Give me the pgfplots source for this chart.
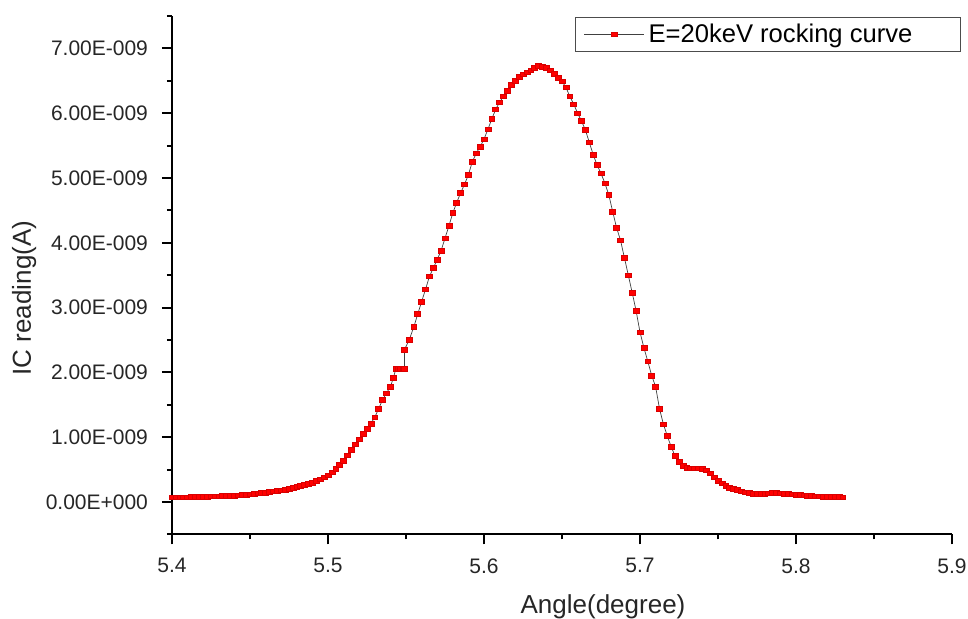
\documentclass[border=0pt]{standalone}
\usepackage{fontspec}
\setmainfont{Liberation Sans}
\usepackage{pgfplots}
\usepackage{pgfplotstable}
\pgfplotsset{compat=1.18}
\pgfplotstableread{
x y
5.4000 0.070
5.4025 0.071
5.4050 0.072
5.4075 0.074
5.4100 0.075
5.4125 0.076
5.4150 0.077
5.4175 0.079
5.4200 0.080
5.4225 0.082
5.4250 0.085
5.4275 0.087
5.4300 0.090
5.4325 0.092
5.4350 0.095
5.4375 0.097
5.4400 0.100
5.4425 0.105
5.4450 0.110
5.4475 0.115
5.4500 0.120
5.4525 0.126
5.4550 0.132
5.4575 0.138
5.4600 0.145
5.4625 0.153
5.4650 0.162
5.4675 0.171
5.4700 0.180
5.4725 0.192
5.4750 0.204
5.4775 0.217
5.4800 0.230
5.4825 0.247
5.4850 0.264
5.4875 0.282
5.4900 0.300
5.4925 0.326
5.4950 0.352
5.4975 0.382
5.5000 0.415
5.5025 0.460
5.5050 0.510
5.5075 0.570
5.5100 0.640
5.5125 0.720
5.5150 0.810
5.5175 0.890
5.5200 0.970
5.5225 1.050
5.5250 1.130
5.5275 1.210
5.5300 1.310
5.5325 1.440
5.5350 1.580
5.5375 1.680
5.5400 1.780
5.5420 1.920
5.5435 2.060
5.5450 2.060
5.5465 2.060
5.5480 2.060
5.5490 2.060
5.5490 2.350
5.5520 2.500
5.5550 2.700
5.5575 2.900
5.5600 3.090
5.5625 3.280
5.5650 3.480
5.5675 3.610
5.5700 3.740
5.5725 3.880
5.5750 4.070
5.5775 4.260
5.5800 4.460
5.5825 4.620
5.5850 4.770
5.5875 4.900
5.5900 5.050
5.5925 5.250
5.5950 5.380
5.5975 5.480
5.6000 5.600
5.6025 5.750
5.6050 5.910
5.6075 6.060
5.6100 6.170
5.6125 6.260
5.6150 6.350
5.6175 6.440
5.6200 6.500
5.6225 6.560
5.6250 6.600
5.6275 6.630
5.6300 6.660
5.6325 6.700
5.6350 6.730
5.6375 6.720
5.6400 6.700
5.6425 6.660
5.6450 6.610
5.6475 6.550
5.6500 6.490
5.6525 6.400
5.6550 6.260
5.6575 6.140
5.6600 6.000
5.6625 5.880
5.6650 5.740
5.6675 5.550
5.6700 5.360
5.6725 5.200
5.6750 5.070
5.6775 4.920
5.6800 4.740
5.6825 4.480
5.6850 4.230
5.6875 4.040
5.6900 3.770
5.6925 3.500
5.6950 3.230
5.6975 2.950
5.7000 2.620
5.7025 2.380
5.7050 2.170
5.7075 1.950
5.7100 1.780
5.7125 1.440
5.7150 1.200
5.7175 1.020
5.7200 0.850
5.7225 0.710
5.7250 0.620
5.7275 0.560
5.7300 0.530
5.7325 0.520
5.7350 0.520
5.7375 0.520
5.7400 0.510
5.7425 0.490
5.7450 0.440
5.7475 0.380
5.7500 0.330
5.7525 0.290
5.7550 0.250
5.7575 0.220
5.7600 0.200
5.7625 0.185
5.7650 0.165
5.7675 0.150
5.7700 0.140
5.7725 0.130
5.7750 0.125
5.7775 0.125
5.7800 0.130
5.7825 0.135
5.7850 0.140
5.7875 0.138
5.7900 0.132
5.7925 0.127
5.7950 0.122
5.7975 0.118
5.8000 0.113
5.8025 0.108
5.8050 0.104
5.8075 0.100
5.8100 0.095
5.8125 0.090
5.8150 0.085
5.8175 0.082
5.8200 0.080
5.8225 0.078
5.8250 0.077
5.8275 0.076
5.8300 0.075
}\rocking
\begin{document}
\begin{tikzpicture}
\begin{axis}[
  at={(0,0)}, anchor=south west,
  scale only axis, width=390pt, height=259.2pt,
  xmin=5.4, xmax=5.9, ymin=-0.5, ymax=7.5,
  axis x line*=bottom, axis y line*=left,
  axis line style={-, line width=1pt, black},
  xtick={5.4,5.5,5.6,5.7,5.8,5.9},
  xticklabels={5.4,5.5,5.6,5.7,5.8,5.9},
  minor xtick={5.45,5.55,5.65,5.75,5.85},
  ytick={0,1,2,3,4,5,6,7},
  yticklabels={0.00E+000,1.00E-009,2.00E-009,3.00E-009,4.00E-009,5.00E-009,6.00E-009,7.00E-009},
  minor ytick={-0.5,0.5,1.5,2.5,3.5,4.5,5.5,6.5,7.5},
  tick align=outside,
  major tick length=5pt, minor tick length=2.5pt,
  every tick/.style={line width=1pt, black},
  ticklabel style={font=\fontsize{10.5}{12}\selectfont, color=black!85},
  xticklabel style={yshift=-3.5pt},
  yticklabel style={xshift=-3.5pt},
  xlabel={Angle(degree)}, ylabel={IC reading(A)},
  label style={font=\fontsize{13}{15}\selectfont, color=black!85},
  xlabel style={at={(axis description cs:0.5526,-0.140)}, anchor=center},
  ylabel style={at={(axis description cs:-0.1897,0.456)}, anchor=center},
  legend style={at={(axis description cs:1.0115,0.998)}, anchor=north east,
    draw=black!70, line width=0.5pt, font=\fontsize{12.8}{14}\selectfont,
    inner xsep=4pt, inner ysep=1pt},
  legend image code/.code={
    \draw[#1, mark=none] (0pt,0pt) -- (30pt,0pt);
    \draw[#1, only marks] plot coordinates {(15pt,0pt)};
  },
  legend cell align=left,
]
\addplot[color=black!75, line width=0.35pt, mark=square*, mark size=1.15pt,
  mark options={fill=red, draw=red!85!black, line width=0.3pt, xscale=1.3}]
  table[x=x, y=y] {\rocking};
\legend{E=20keV rocking curve\hspace*{18pt}}
\end{axis}
\pgfresetboundingbox
\path[use as bounding box] (-86pt,-42.3pt) rectangle (398pt,267.2pt);
\end{tikzpicture}
\end{document}
